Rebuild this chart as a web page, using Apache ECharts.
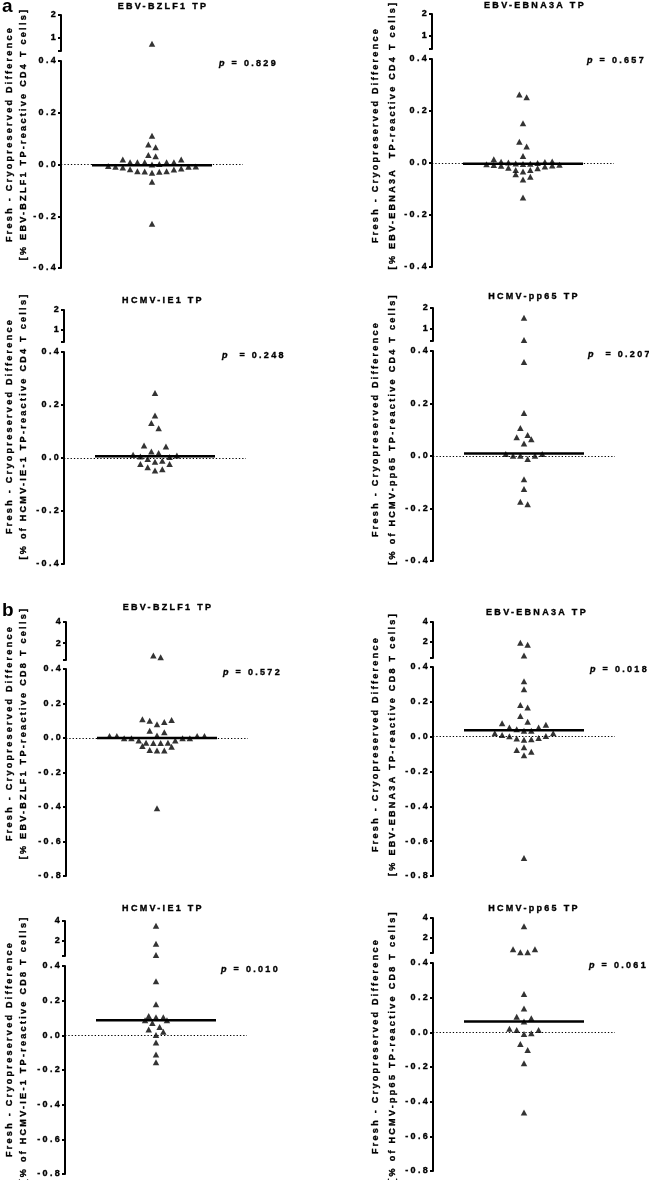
<!DOCTYPE html>
<html>
<head>
<meta charset="utf-8">
<script src="https://cdn.jsdelivr.net/npm/echarts@6/dist/echarts.min.js"></script>
<style>
html,body{margin:0;padding:0;background:#fff;}
#main{width:649px;height:1180px;}
</style>
</head>
<body>
<div id="main"></div>
<script>
// ---------------- DATA ----------------
const panelLetters = ['a', 'b'];
const panelTitles = ['EBV-BZLF1 TP', 'EBV-EBNA3A TP', 'HCMV-IE1 TP', 'HCMV-pp65 TP',
                     'EBV-BZLF1 TP', 'EBV-EBNA3A TP', 'HCMV-IE1 TP', 'HCMV-pp65 TP'];
const yTitleLine1 = 'Fresh - Cryopreserved Difference';
const yTitleLine2 = [
  '[% EBV-BZLF1 TP-reactive CD4 T cells]',
  '[% EBV-EBNA3A  TP-reactive CD4 T cells]',
  '[% of HCMV-IE-1 TP-reactive CD4 T cells]',
  '[% of HCMV-pp65 TP-reactive CD4 T cells]',
  '[% EBV-BZLF1 TP-reactive CD8 T cells]',
  '[% EBV-EBNA3A TP-reactive CD8 T cells]',
  '[% of HCMV-IE-1 TP-reactive CD8 T cells]',
  '[% of HCMV-pp65 TP-reactive CD8 T cells]'
];
const pLabelSep = [' = ', ' = ', '  = ', '  = ', ' = ', ' = ', ' = ', ' = '];
const pValues = ['0.829', '0.657', '0.248', '0.207', '0.572', '0.018', '0.010', '0.061'];

// CD4 panels (a)
const cd4_EBV_BZLF1 = [0.72, 0.111, 0.077, 0.067, 0.032, 0.037, 0.019, 0.009, 0.009, 0.002, 0.000,
  0.009, 0.009, 0.009, 0.019, -0.006, -0.008, -0.012, -0.018, -0.026, -0.026, -0.032, -0.028,
  -0.027, -0.019, -0.015, -0.009, -0.009, -0.067, -0.229];
const cd4_EBV_EBNA3A = [0.263, 0.253, 0.153, 0.082, 0.063, 0.027, 0.014, 0.006, 0.005, 0.004,
  0.002, 0.000, -0.002, -0.003, -0.004, -0.005, -0.007, -0.008, -0.010, -0.011, -0.013, -0.018,
  -0.020, -0.027, -0.027, -0.033, -0.043, -0.053, -0.063, -0.133];
const cd4_HCMV_IE1 = [0.245, 0.160, 0.132, 0.112, 0.047, 0.043, 0.025, 0.019, 0.012, 0.009, 0.006,
  0.004, -0.004, -0.010, -0.014, -0.023, -0.023, -0.035, -0.042, -0.047];
const cd4_HCMV_pp65 = [1.53, 0.45, 0.358, 0.164, 0.107, 0.080, 0.071, 0.064, 0.048, 0.008, 0.008,
  0.001, 0.001, 0.001, -0.011, -0.089, -0.126, -0.174, -0.184];
// CD8 panels (b)
const cd8_EBV_BZLF1 = [0.83, 0.65, 0.108, 0.100, 0.079, 0.093, 0.104, 0.033, 0.042, 0.015, 0.012,
  0.012, 0.012, 0.012, -0.002, -0.002, -0.002, -0.002, -0.015, -0.015, -0.027, -0.027, -0.029,
  -0.029, -0.050, -0.073, -0.073, -0.069, -0.046, -0.407];
const cd8_EBV_EBNA3A = [1.72, 1.93, 0.65, 0.318, 0.272, 0.168, 0.182, 0.119, 0.086, 0.077, 0.069,
  0.052, 0.052, 0.042, 0.034, 0.034, 0.019, 0.019, 0.004, 0.010, -0.008, 0.002, -0.017, -0.010,
  -0.015, -0.061, -0.086, -0.077, -0.107, -0.697];
const cd8_HCMV_IE1 = [3.5, 1.67, 0.5, 0.312, 0.179, 0.104, 0.104, 0.112, 0.087, 0.087, 0.071, 0.048,
  0.033, 0.021, 0.002, -0.042, -0.110, -0.156];
const cd8_HCMV_pp65 = [3.14, 0.79, 0.47, 0.47, 0.79, 0.221, 0.137, 0.090, 0.081, 0.062, 0.013,
  -0.006, -0.010, 0.013, 0.021, -0.067, -0.102, -0.179, -0.463];

const medians = [-0.003, -0.003, 0.007, 0.010, 0.000, 0.037, 0.087, 0.063];

// axis ranges / ticks
const breakValue = 0.4;
const cd4LowerRange = [-0.4, 0.4];
const cd8LowerRange = [-0.8, 0.4];
const cd4UpperTicks = [1, 2];
const cd8UpperTicks = [2, 4];
const lowerTickStep = 0.2;

const panelValues = [cd4_EBV_BZLF1, cd4_EBV_EBNA3A, cd4_HCMV_IE1, cd4_HCMV_pp65,
                     cd8_EBV_BZLF1, cd8_EBV_EBNA3A, cd8_HCMV_IE1, cd8_HCMV_pp65];

// ---------------- LAYOUT (pixels) ----------------
const L = [
  {ax: 61, up: [15, 51],   lo: [61, 268],   tx: 163, ty: 7,   px: 219, py: 64,  y1: 10,  y2: 24,  yc: 134},
  {ax: 432, up: [14, 49],  lo: [59, 267],   tx: 535, ty: 6,   px: 587, py: 61,  y1: 376, y2: 393, yc: 135},
  {ax: 64, up: [310, 342], lo: [352, 564],  tx: 163, ty: 301, px: 222, py: 356, y1: 10,  y2: 24,  yc: 426},
  {ax: 433, up: [308, 341],lo: [351, 561],  tx: 534, ty: 297, px: 588, py: 355, y1: 376, y2: 393, yc: 429},
  {ax: 66, up: [622, 660], lo: [669, 876],  tx: 168, ty: 608, px: 223, py: 673, y1: 10,  y2: 24,  yc: 733},
  {ax: 433, up: [622, 658],lo: [667, 876],  tx: 537, ty: 613, px: 590, py: 670, y1: 376, y2: 393, yc: 744},
  {ax: 65, up: [921, 956], lo: [966, 1174], tx: 163, ty: 909, px: 221, py: 970, y1: 10,  y2: 24,  yc: 1049},
  {ax: 433, up: [918, 953],lo: [963, 1171], tx: 534, ty: 909, px: 589, py: 966, y1: 376, y2: 393, yc: 1046}
];
const GRID_W = 182, HALF_W = GRID_W / 2, MED_HALF = 60, SLOT = 7.3, ROW_PX = 7.5;

// ---------------- letter spacing (the reference uses widely tracked text) ----------------
(function () {
  const P = CanvasRenderingContext2D.prototype;
  if (!('letterSpacing' in P)) return;
  const LS = '2.3px';
  const f = P.fillText, m = P.measureText, s = P.strokeText;
  P.fillText = function () { this.letterSpacing = LS; return f.apply(this, arguments); };
  P.strokeText = function () { this.letterSpacing = LS; return s.apply(this, arguments); };
  P.measureText = function () { this.letterSpacing = LS; return m.apply(this, arguments); };
})();

// Prism-like row swarm: values grouped in rows of ROW_PX, spread centre-outward
function swarm(vals, pxPerUnit) {
  const order = vals.map((v, i) => i).sort((a, b) => vals[a] - vals[b]);
  const xs = new Array(vals.length).fill(0);
  let k = 0;
  while (k < order.length) {
    const start = vals[order[k]];
    let j = k;
    while (j < order.length && (vals[order[j]] - start) * pxPerUnit < ROW_PX) j++;
    const n = j - k, pos = [];
    if (n % 2 === 1) {
      pos.push(0);
      for (let m = 1; pos.length < n; m++) { pos.push(m); if (pos.length < n) pos.push(-m); }
    } else {
      for (let m = 0; pos.length < n; m++) { pos.push(m + 0.5); pos.push(-(m + 0.5)); }
    }
    for (let t = 0; t < n; t++) xs[order[k + t]] = pos[t] * SLOT;
    k = j;
  }
  return vals.map((v, i) => [xs[i], v]);
}

const FONT = '"Liberation Sans", Arial, Helvetica, sans-serif';
const HEAVY = 0.35; // slight outline so the bold text matches the heavier print
const grids = [], xAxes = [], yAxes = [], series = [], graphics = [];

panelValues.forEach((vals, p) => {
  const lay = L[p];
  const isCD8 = p >= 4;
  const lowR = isCD8 ? cd8LowerRange : cd4LowerRange;
  const upTicks = isCD8 ? cd8UpperTicks : cd4UpperTicks;
  const upMax = upTicks[upTicks.length - 1];
  const gU = 2 * p, gL = 2 * p + 1;

  grids.push({left: lay.ax, width: GRID_W, top: lay.up[0], height: lay.up[1] - lay.up[0], outerBoundsMode: 'none'});
  grids.push({left: lay.ax, width: GRID_W, top: lay.lo[0], height: lay.lo[1] - lay.lo[0], outerBoundsMode: 'none'});

  [gU, gL].forEach(g => xAxes.push({gridIndex: g, type: 'value', min: -HALF_W, max: HALF_W, show: false}));

  const axisLineStyle = {color: '#000', width: 2};
  const labelStyle = {color: '#000', fontSize: 9, fontWeight: 'bold', fontFamily: FONT, margin: 3,
                      textBorderColor: '#000', textBorderWidth: HEAVY};
  yAxes.push({
    gridIndex: gU, type: 'value', min: breakValue, max: upMax, position: 'left',
    axisLine: {show: true, onZero: false, lineStyle: axisLineStyle},
    axisTick: {show: true, length: 3, lineStyle: axisLineStyle, customValues: [breakValue].concat(upTicks)},
    axisLabel: Object.assign({customValues: upTicks, formatter: v => String(v)}, labelStyle),
    splitLine: {show: false}
  });
  yAxes.push({
    gridIndex: gL, type: 'value', min: lowR[0], max: lowR[1], interval: lowerTickStep, position: 'left',
    axisLine: {show: true, onZero: false, lineStyle: axisLineStyle},
    axisTick: {show: true, length: 3, lineStyle: axisLineStyle},
    axisLabel: Object.assign({formatter: v => v.toFixed(1), hideOverlap: false}, labelStyle),
    splitLine: {show: false}
  });

  const upperVals = vals.filter(v => v > breakValue);
  const lowerVals = vals.filter(v => v <= breakValue);
  const upPx = (lay.up[1] - lay.up[0]) / (upMax - breakValue);
  const loPx = (lay.lo[1] - lay.lo[0]) / (lowR[1] - lowR[0]);

  series.push({
    type: 'line', xAxisIndex: gL, yAxisIndex: gL, symbol: 'none', silent: true, z: 3,
    lineStyle: {color: '#000', width: 2.5},
    data: [[-MED_HALF, medians[p]], [MED_HALF, medians[p]]]
  });
  series.push({
    type: 'scatter', xAxisIndex: gL, yAxisIndex: gL, symbol: 'triangle', symbolSize: [6.5, 6], z: 4,
    itemStyle: {color: '#000'},
    data: swarm(lowerVals, loPx),
    markLine: {
      silent: true, symbol: ['none', 'none'], label: {show: false}, z: 2,
      lineStyle: {color: '#000', width: 1, type: [1.3, 2]},
      data: [{yAxis: 0}]
    }
  });
  series.push({
    type: 'scatter', xAxisIndex: gU, yAxisIndex: gU, symbol: 'triangle', symbolSize: [6.5, 6], z: 4,
    itemStyle: {color: '#000'},
    data: swarm(upperVals, upPx)
  });

  const txt = (text, x, y, align) => ({
    type: 'text', x: x, y: y, silent: true,
    style: {text: text, fill: '#000', font: 'bold 9px ' + FONT, stroke: '#000', lineWidth: HEAVY,
      textAlign: align, textVerticalAlign: 'middle', align: align, verticalAlign: 'middle'}
  });
  graphics.push(txt(panelTitles[p], lay.tx, lay.ty, 'center'));
  graphics.push({
    type: 'text', x: lay.px, y: lay.py, silent: true,
    style: {
      text: '{i|p}' + pLabelSep[p] + pValues[p], fill: '#000', font: 'bold 9px ' + FONT,
      stroke: '#000', lineWidth: HEAVY,
      textAlign: 'left', textVerticalAlign: 'middle', align: 'left', verticalAlign: 'middle',
      rich: {i: {fontStyle: 'italic', fontWeight: 'bold', fontSize: 9, fontFamily: FONT, fill: '#000'}}
    }
  });
  const r1 = txt(yTitleLine1, lay.y1, lay.yc, 'center'); r1.rotation = Math.PI / 2;
  const r2 = txt(yTitleLine2[p], lay.y2, lay.yc, 'center'); r2.rotation = Math.PI / 2;
  graphics.push(r1, r2);
});

graphics.push({type: 'text', x: 2, y: 6.5, silent: true,
  style: {text: panelLetters[0], fill: '#000', font: 'bold 19px ' + FONT, textAlign: 'left', textVerticalAlign: 'middle', align: 'left', verticalAlign: 'middle'}});
graphics.push({type: 'text', x: 2, y: 611, silent: true,
  style: {text: panelLetters[1], fill: '#000', font: 'bold 19px ' + FONT, textAlign: 'left', textVerticalAlign: 'middle', align: 'left', verticalAlign: 'middle'}});

const chart = echarts.init(document.getElementById('main'), null, {renderer: 'canvas'});
chart.setOption({
  animation: false,
  backgroundColor: '#fff',
  grid: grids,
  xAxis: xAxes,
  yAxis: yAxes,
  series: series,
  graphic: {elements: graphics}
});
</script>
</body>
</html>
